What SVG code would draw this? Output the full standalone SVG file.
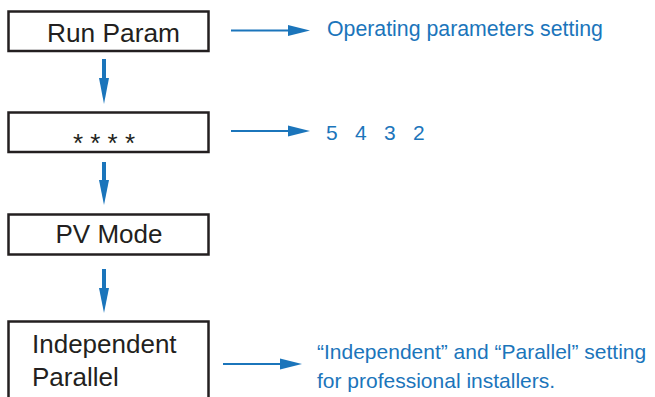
<svg xmlns="http://www.w3.org/2000/svg" width="655" height="397" viewBox="0 0 655 397">
<style>
.box{fill:#fff;stroke:#231f20;stroke-width:2.5}
.lbl{font-family:"Liberation Sans",Arial,sans-serif;font-size:26px;fill:#231f20}
.note{font-family:"Liberation Sans",Arial,sans-serif;font-size:21px;fill:#1b75bb}
.h{stroke:#1b75bb;stroke-width:2;fill:none}
.v{stroke:#1b75bb;stroke-width:4;fill:none}
.head{fill:#1b75bb}
</style>
<rect width="655" height="397" fill="#fff"/>
<g id="node-run-param">
<rect class="box" x="8.5" y="11.5" width="200" height="39.5"/>
<text class="lbl" x="113.5" y="42" text-anchor="middle" style="font-size:26.3px">Run Param</text>
</g>
<g id="node-password">
<rect class="box" x="8.5" y="112.5" width="200" height="39.5"/>
<text class="lbl" x="104" y="152" text-anchor="middle">* * * *</text>
</g>
<g id="node-pv-mode">
<rect class="box" x="8.5" y="214.5" width="200" height="40"/>
<text class="lbl" x="109" y="243" text-anchor="middle">PV Mode</text>
</g>
<g id="node-independent-parallel">
<rect class="box" x="8.5" y="321.5" width="200" height="90"/>
<text class="lbl" x="32" y="353">Independent</text>
<text class="lbl" x="32" y="386">Parallel</text>
</g>
<g id="note-operating">
<text class="note" x="327" y="36" style="font-size:21.3px">Operating parameters setting</text>
</g>
<g id="note-digits">
<text class="note" x="326" y="140" style="word-spacing:11.5px">5 4 3 2</text>
</g>
<g id="note-installers">
<text class="note" x="317" y="359">“Independent” and “Parallel” setting</text>
<text class="note" x="317" y="388">for professional installers.</text>
</g>
<g id="connectors">
<line class="v" x1="104" y1="59" x2="104" y2="82"/>
<polygon class="head" points="99,78 109,78 104,104"/>
<line class="v" x1="104" y1="162" x2="104" y2="184"/>
<polygon class="head" points="99,180 109,180 104,205"/>
<line class="v" x1="104" y1="269" x2="104" y2="292"/>
<polygon class="head" points="99,288 109,288 104,313"/>
<line class="h" x1="231" y1="30.5" x2="292" y2="30.5"/>
<polygon class="head" points="288,25 310,30.5 288,36"/>
<line class="h" x1="231" y1="131" x2="292" y2="131"/>
<polygon class="head" points="288,125.5 310,131 288,136.5"/>
<line class="h" x1="223" y1="364" x2="284" y2="364"/>
<polygon class="head" points="280,358.5 302,364 280,369.5"/>
</g>
</svg>
